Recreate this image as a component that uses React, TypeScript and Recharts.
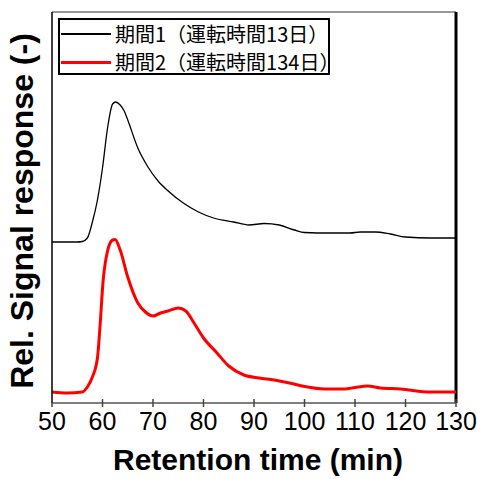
import { Line, LineChart, ReferenceLine, XAxis, YAxis } from "recharts";

// retention time (min) and relative signal (arbitrary units, baseline offset included)
const time1 = [50, 55, 56, 57, 58, 59, 60, 61, 62, 62.6, 63.5, 64.3, 65, 67, 69, 71, 73, 76, 79, 82, 86, 89, 92, 95, 98, 100, 105, 109, 111, 114, 117, 120, 125, 130];
const signal1 = [161, 161, 161.5, 165, 181, 203, 235, 275, 299, 301, 298, 292, 283, 255, 236, 222, 212, 200, 191, 185, 181, 178, 179.5, 178, 173, 170.5, 170, 170, 171, 171, 169, 166, 165, 165];

const time2 = [50, 53, 56, 57, 58, 59, 59.5, 60.1, 61, 62, 62.5, 63.5, 65, 67, 68.5, 70, 71.5, 73, 75, 76.5, 78, 80, 82.5, 85, 88, 91, 94, 97, 100, 104, 108, 110, 112.5, 115, 119, 125, 130];
const signal2 = [11, 10, 11, 16, 26, 45, 76, 121, 152, 163, 163.5, 153, 126, 100, 91, 87, 90, 92, 95, 92, 81, 65, 51, 37, 28, 25, 23, 20, 16.5, 14, 14, 15.5, 17, 15, 14, 11, 11];

const xTicks = [50, 60, 70, 80, 90, 100, 110, 120, 130];
const seriesNames = ["期間1（運転時間13日）", "期間2（運転時間134日）"];

const period1 = time1.map((t, i) => ({ t, v: signal1[i] }));
const period2 = time2.map((t, i) => ({ t, v: signal2[i] }));

const FONT = '"Liberation Sans", Arial, sans-serif';

function XTick({ x, y, payload }: any) {
  return (
    <g>
      <line x1={x} x2={x} y1={y - 4} y2={y + 4} stroke="#444" strokeWidth={1.5} />
      <text x={x} y={y + 27} textAnchor="middle" fontSize={25} fontFamily={FONT} fill="#000">
        {payload.value}
      </text>
    </g>
  );
}

function LegendBox() {
  const rows = [
    { color: "#000", width: 1.2 },
    { color: "#ff0000", width: 3 },
  ];
  return (
    <div
      style={{
        position: "absolute",
        left: 58,
        top: 18,
        width: 272,
        height: 57,
        border: "2px solid #000",
        boxSizing: "border-box",
        background: "#fff",
      }}
    >
      {rows.map((r, i) => (
        <div key={i} style={{ position: "absolute", left: 0, top: i === 0 ? 2 : 30, height: 24, width: 268 }}>
          <div
            style={{
              position: "absolute",
              left: 1,
              top: 12 - r.width / 2,
              width: 50,
              height: r.width,
              background: r.color,
            }}
          />
          <span
            style={{
              position: "absolute",
              left: 55,
              top: 0,
              fontSize: 20,
              lineHeight: "24px",
              fontFamily: '"Noto Sans CJK JP", sans-serif',
              color: "#000",
              whiteSpace: "nowrap",
            }}
          >
            {seriesNames[i]}
          </span>
        </div>
      ))}
    </div>
  );
}

export default function App() {
  return (
    <div style={{ position: "absolute", left: 0, top: 0, width: 477, height: 479, background: "#fff" }}>
      <LineChart width={477} height={479} margin={{ top: 12, right: 21, left: 0, bottom: 0 }} style={{ fontFamily: FONT }}>
        <XAxis
          dataKey="t"
          type="number"
          domain={[50, 130]}
          ticks={xTicks}
          allowDataOverflow
          height={76}
          tickSize={0}
          tickMargin={0}
          tickLine={false}
          tick={<XTick />}
          axisLine={{ stroke: "#555", strokeWidth: 1.5 }}
        />
        <YAxis
          type="number"
          domain={[0, 391]}
          allowDataOverflow
          width={52}
          tick={false}
          tickLine={false}
          axisLine={{ stroke: "#000", strokeWidth: 1.5 }}
        />
        <ReferenceLine y={391} stroke="#777" strokeWidth={1.5} />
        <ReferenceLine x={130} stroke="#000" strokeWidth={3} />
        <Line
          data={period1}
          dataKey="v"
          type="monotone"
          stroke="#000"
          strokeWidth={1.3}
          dot={false}
          isAnimationActive={false}
        />
        <Line
          data={period2}
          dataKey="v"
          type="monotone"
          stroke="#ff0000"
          strokeWidth={3}
          dot={false}
          isAnimationActive={false}
        />
      </LineChart>
      <LegendBox />
      <svg
        width={477}
        height={479}
        style={{ position: "absolute", left: 0, top: 0, pointerEvents: "none" }}
      >
        <text x={258} y={470} textAnchor="middle" fontFamily={FONT} fontWeight="bold" fontSize={30} fill="#000">
          Retention time (min)
        </text>
        <text
          transform="translate(33,211) rotate(-90)"
          textAnchor="middle"
          fontFamily={FONT}
          fontWeight="bold"
          fontSize={32}
          fill="#000"
        >
          Rel. Signal response (-)
        </text>
      </svg>
    </div>
  );
}
